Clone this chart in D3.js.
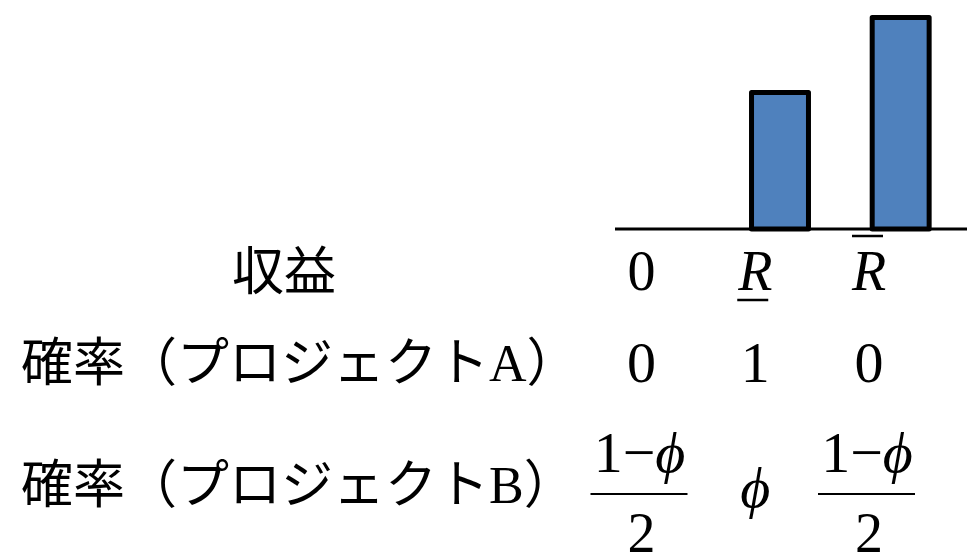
<!DOCTYPE html>
<html>
<head>
<meta charset="utf-8">
<script src="https://cdn.jsdelivr.net/npm/d3@7"></script>
<style>
  body { margin: 0; background: #fff; }
  svg { display: block; }
</style>
</head>
<body>
<div id="chart"></div>
<script>
// payoff categories and the two probability rows
var categories = ["zero", "low", "high"];
var payoffLabels = ["0", "R", "R"];
var payoffMarks = ["", "under", "over"];
var barValues = [0, 6.45, 10];
var probA = ["0", "1", "0"];
var probB = ["frac", "phi", "frac"];
var rowTitles = ["収益", "確率（プロジェクトA）", "確率（プロジェクトB）"];

var width = 967, height = 557;
var baseY = 229;
var serif = "'Liberation Serif', 'Times New Roman', serif";
var cjk = "'Liberation Serif', 'Noto Sans CJK JP', serif";
var phi = "\u03D5";

var svg = d3.select("#chart").append("svg")
	.attr("width", width)
	.attr("height", height);

var x = d3.scaleBand()
	.domain(categories)
	.range([599, 961])
	.paddingInner(0.528)
	.paddingOuter(0.264);
var y = d3.scaleLinear()
	.domain([0, 10])
	.range([baseY, 17.5]);
var col = d3.scalePoint()
	.domain(categories)
	.range([641.5, 869]);

// bars
svg.selectAll(".bar")
	.data(barValues.map(function(d, i) { return {c: categories[i], v: d}; })
		.filter(function(d) { return d.v > 0; }))
	.enter()
	.append("rect")
	.attr("class", "bar")
	.attr("x", function(d) { return x(d.c); })
	.attr("y", function(d) { return y(d.v); })
	.attr("width", x.bandwidth())
	.attr("height", function(d) { return y(0) - y(d.v); })
	.attr("fill", "#4f81bd")
	.attr("stroke", "#000")
	.attr("stroke-width", 5)
	.attr("stroke-linejoin", "round");

// baseline
svg.append("line")
	.attr("x1", 615)
	.attr("x2", width)
	.attr("y1", baseY)
	.attr("y2", baseY)
	.attr("stroke", "#000")
	.attr("stroke-width", 3);

// row titles
var titleX = [284, 21, 21];
var titleY = [290, 381, 503];
rowTitles.forEach(function(t, i) {
	svg.append("text")
		.attr("x", titleX[i])
		.attr("y", titleY[i])
		.attr("text-anchor", i == 0 ? "middle" : "start")
		.style("font-family", cjk)
		.style("font-size", "52px")
		.text(t);
});

// payoff row
categories.forEach(function(c, i) {
	var cx = col(c);
	svg.append("text")
		.attr("x", cx)
		.attr("y", 290)
		.attr("text-anchor", "middle")
		.style("font-family", serif)
		.style("font-size", "56px")
		.style("font-style", i == 0 ? "normal" : "italic")
		.text(payoffLabels[i]);
	if (payoffMarks[i] == "under") {
		svg.append("line")
			.attr("x1", cx - 18).attr("x2", cx + 13)
			.attr("y1", 300).attr("y2", 300)
			.attr("stroke", "#000").attr("stroke-width", 2.5);
	} else if (payoffMarks[i] == "over") {
		svg.append("line")
			.attr("x1", cx - 17).attr("x2", cx + 14)
			.attr("y1", 236).attr("y2", 236)
			.attr("stroke", "#000").attr("stroke-width", 2.5);
	}
});

// project A probabilities
svg.selectAll(".probA")
	.data(probA)
	.enter()
	.append("text")
	.attr("class", "probA")
	.attr("x", function(d, i) { return col(categories[i]); })
	.attr("y", 382)
	.attr("text-anchor", "middle")
	.style("font-family", serif)
	.style("font-size", "58px")
	.text(function(d) { return d; });

// project B probabilities
probB.forEach(function(d, i) {
	var cx = col(categories[i]);
	if (d == "phi") {
		svg.append("text")
			.attr("x", cx)
			.attr("y", 507)
			.attr("text-anchor", "middle")
			.style("font-family", serif)
			.style("font-size", "58px")
			.style("font-style", "italic")
			.text(phi);
		return;
	}
	var num = svg.append("text")
		.attr("x", cx - 2)
		.attr("y", 472)
		.attr("text-anchor", "middle")
		.style("font-family", serif)
		.style("font-size", "58px");
	num.append("tspan").text("1\u2212");
	num.append("tspan").style("font-style", "italic").text(phi);
	svg.append("line")
		.attr("x1", cx - 51).attr("x2", cx + 46)
		.attr("y1", 494).attr("y2", 494)
		.attr("stroke", "#000").attr("stroke-width", 2);
	svg.append("text")
		.attr("x", cx)
		.attr("y", 552)
		.attr("text-anchor", "middle")
		.style("font-family", serif)
		.style("font-size", "56px")
		.text("2");
});
</script>
</body>
</html>
